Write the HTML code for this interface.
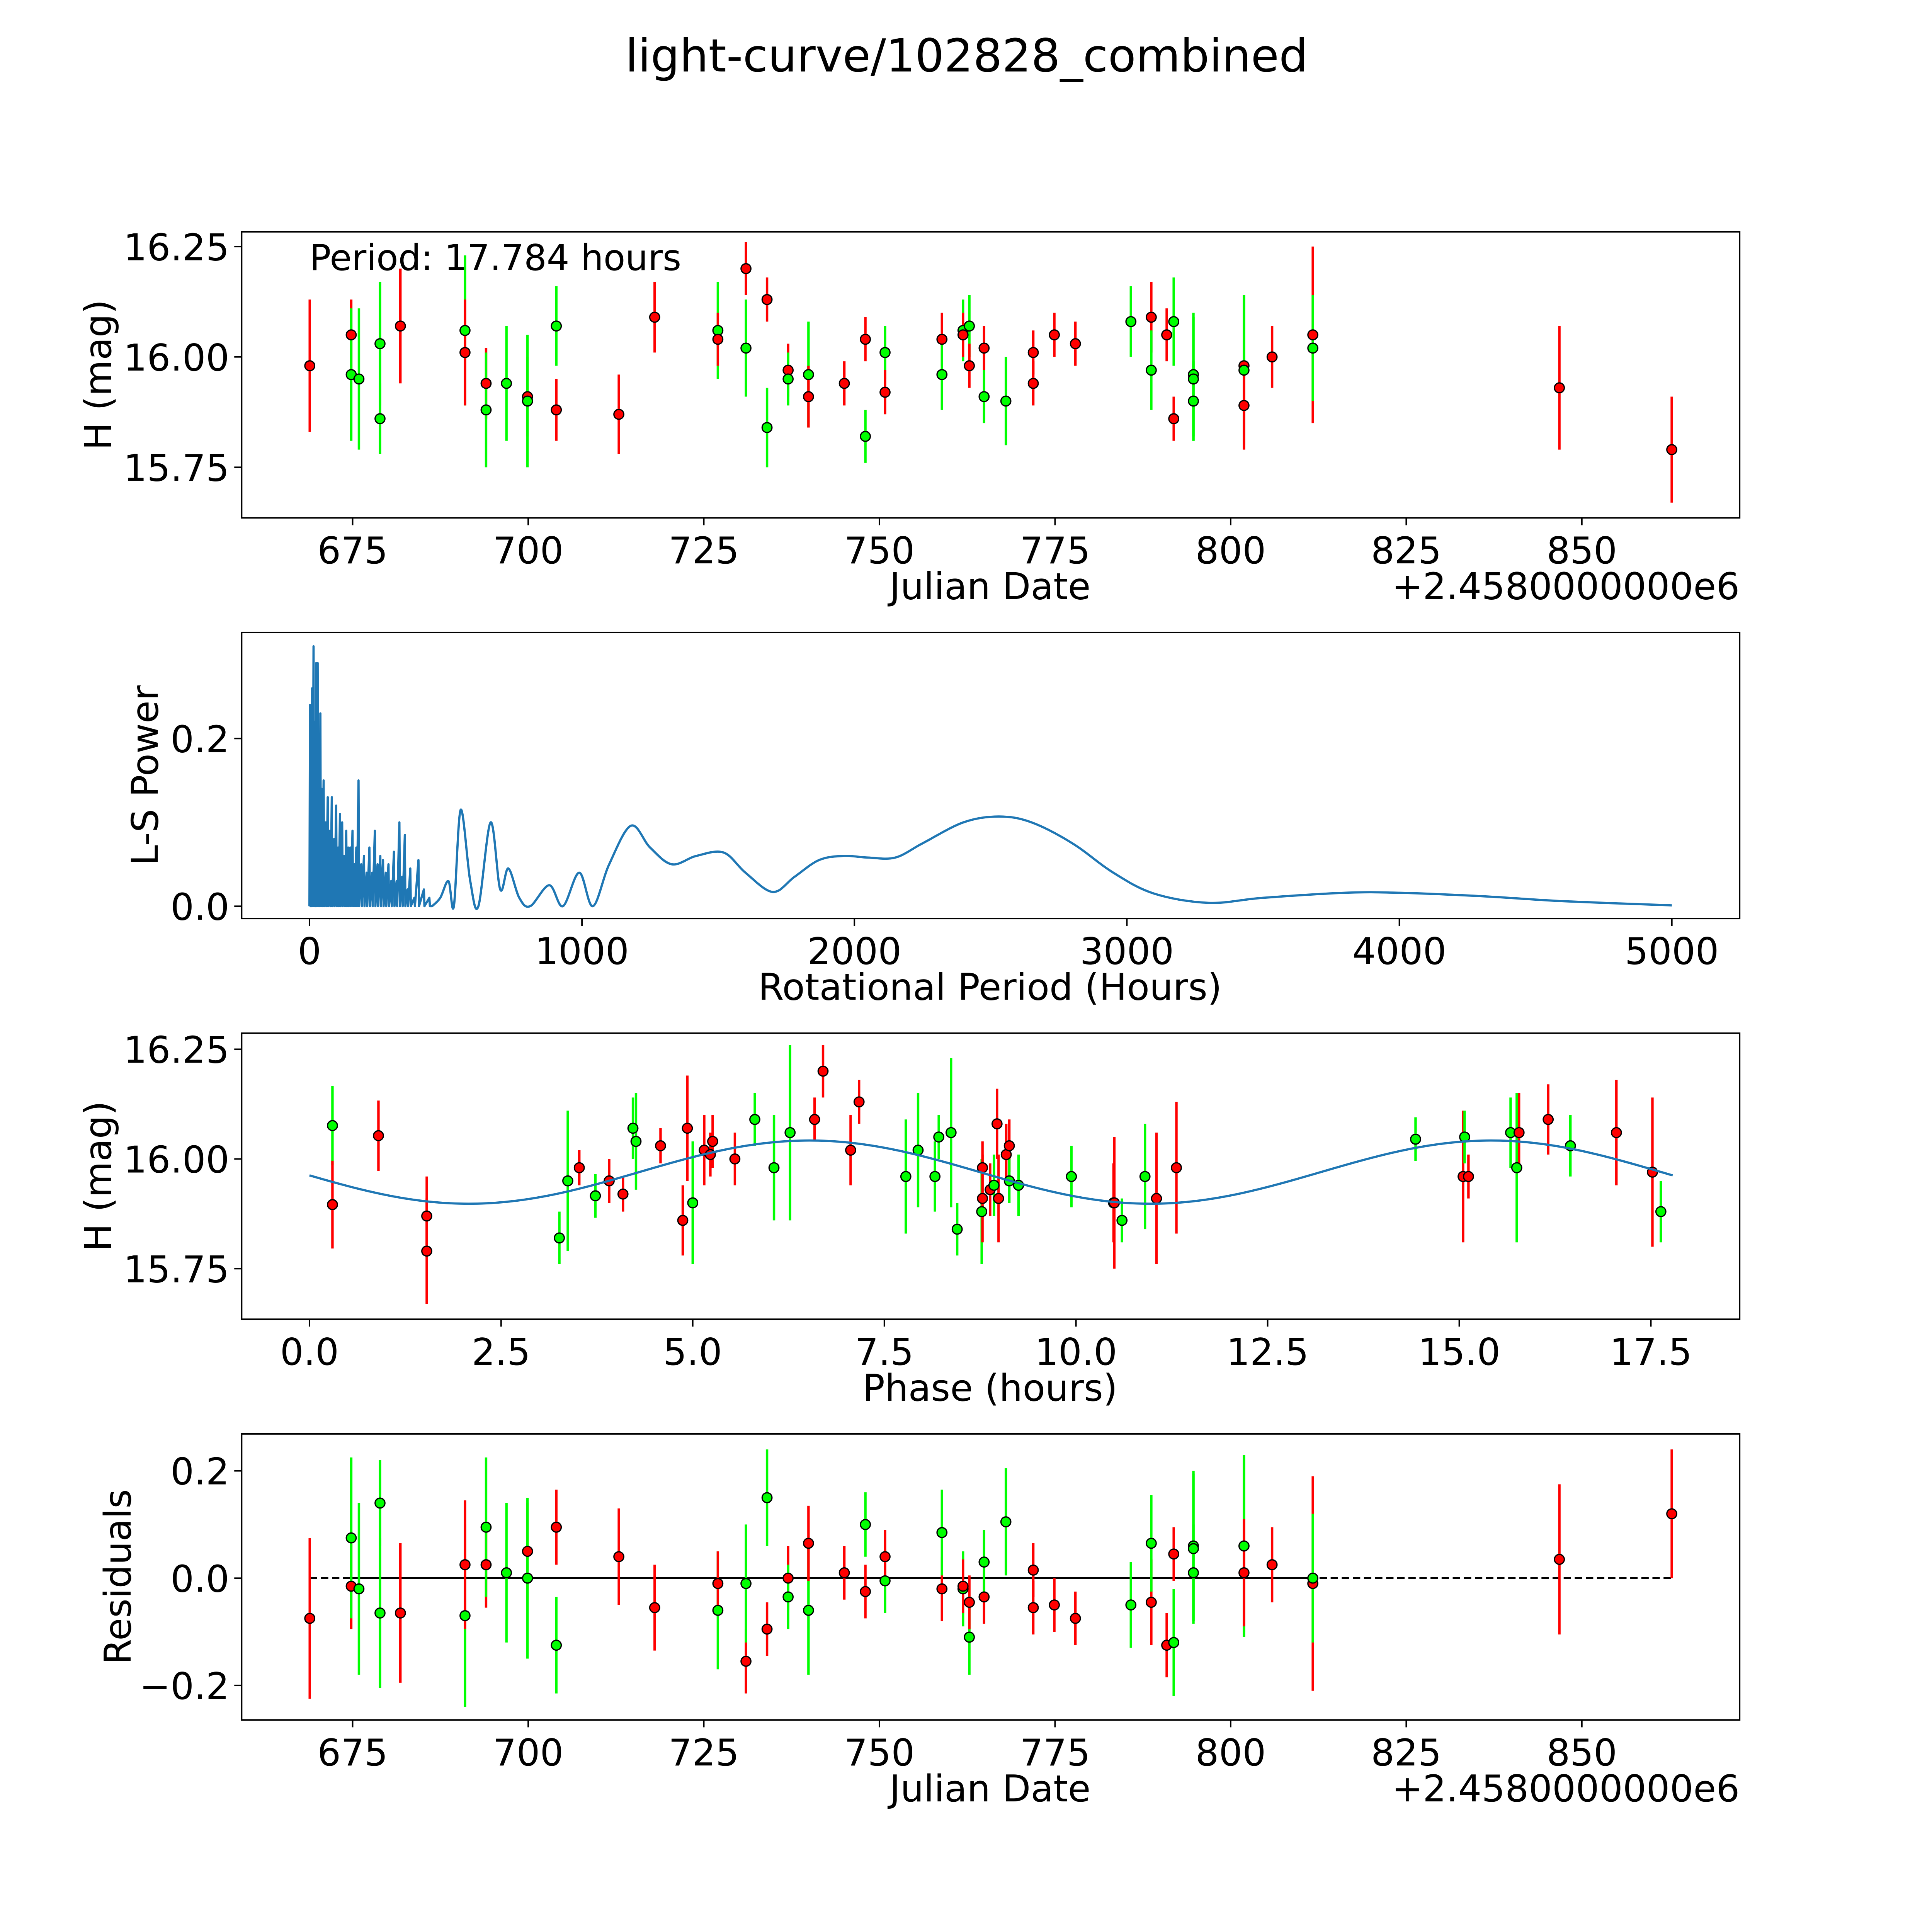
<!DOCTYPE html>
<html><head><meta charset="utf-8"><style>html,body{margin:0;padding:0;background:#fff;overflow:hidden;width:100%;height:100%}svg{display:block;position:fixed;left:0;top:0;width:100vw;height:100vh}text{font-family:"DejaVu Sans","Liberation Sans",sans-serif;fill:#000}</style></head>
<body>
<svg id="fig" xmlns="http://www.w3.org/2000/svg" viewBox="0 0 1567 1567" preserveAspectRatio="none">
<rect width="1567" height="1567" fill="#fff"/>
<text x="784" y="58" font-size="37" text-anchor="middle">light-curve/102828_combined</text>
</svg>
<script>
// ---- light curve data ----
const dates=[668.9,674.8,674.8,675.9,678.9,678.9,681.8,691.0,691.0,694.0,694.0,696.9,699.9,699.9,704.0,704.0,712.9,718.0,727.0,727.0,731.0,731.0,734.0,734.0,737.0,737.0,739.9,739.9,745.0,748.0,748.0,750.8,750.8,758.9,758.9,761.9,761.9,762.8,762.8,764.9,764.9,768.0,771.9,771.9,774.9,777.9,785.8,788.7,788.7,790.9,791.9,791.9,794.7,794.7,794.7,801.9,801.9,801.9,805.9,811.7,811.7,846.8,862.8];
const mags=[15.98,16.05,15.96,15.95,16.03,15.86,16.07,16.06,16.01,15.94,15.88,15.94,15.91,15.90,16.07,15.88,15.87,16.09,16.06,16.04,16.20,16.02,16.13,15.84,15.97,15.95,15.96,15.91,15.94,16.04,15.82,16.01,15.92,16.04,15.96,16.06,16.05,16.07,15.98,16.02,15.91,15.90,16.01,15.94,16.05,16.03,16.08,16.09,15.97,16.05,16.08,15.86,15.96,15.95,15.90,15.98,15.97,15.89,16.00,16.05,16.02,15.93,15.79];
const errs=[0.15,0.08,0.15,0.16,0.14,0.08,0.13,0.17,0.12,0.08,0.13,0.13,0.09,0.15,0.09,0.07,0.09,0.08,0.11,0.06,0.06,0.11,0.05,0.09,0.06,0.06,0.12,0.07,0.05,0.05,0.06,0.06,0.05,0.06,0.08,0.07,0.05,0.07,0.05,0.05,0.06,0.10,0.05,0.05,0.05,0.05,0.08,0.08,0.09,0.06,0.10,0.05,0.14,0.14,0.09,0.16,0.17,0.10,0.07,0.20,0.12,0.14,0.12];
const colors="rrggggrgrrggrggrrrgrrgrgrggrrrggrrggrgrrggrrrrgrgrgrgggrgrrrgrr";
const residuals=[-0.075,-0.015,0.075,-0.02,-0.065,0.14,-0.065,-0.07,0.025,0.025,0.095,0.01,0.05,0.0,-0.125,0.095,0.04,-0.055,-0.06,-0.01,-0.155,-0.01,-0.095,0.15,0.0,-0.035,-0.06,0.065,0.01,-0.025,0.10,-0.005,0.04,-0.02,0.085,-0.02,-0.015,-0.11,-0.045,-0.035,0.03,0.105,0.015,-0.055,-0.05,-0.075,-0.05,-0.045,0.065,-0.125,-0.12,0.045,0.06,0.055,0.01,0.06,0.06,0.01,0.025,-0.01,0.0,0.035,0.12];
// ---- phase-folded data ----
const phases=[0.30,0.30,0.90,1.53,1.53,3.26,3.37,3.52,3.73,3.91,4.09,4.22,4.26,4.58,4.87,4.93,5.00,5.15,5.23,5.26,5.55,5.81,6.06,6.27,6.59,6.70,7.06,7.17,7.78,7.94,8.16,8.21,8.37,8.45,8.77,8.78,8.78,8.88,8.93,8.97,8.99,9.09,9.13,9.13,9.25,9.94,10.49,10.50,10.60,10.90,11.05,11.31,14.43,15.05,15.07,15.12,15.67,15.75,15.78,16.16,16.45,17.05,17.52,17.63];
const phaseMags=[16.076,15.896,16.053,15.87,15.79,15.82,15.95,15.98,15.916,15.95,15.92,16.07,16.04,16.03,15.86,16.07,15.90,16.02,16.01,16.04,16.00,16.09,15.98,16.06,16.09,16.20,16.02,16.13,15.96,16.02,15.96,16.05,16.06,15.84,15.88,15.98,15.91,15.93,15.94,16.08,15.91,16.01,16.03,15.95,15.94,15.96,15.90,15.90,15.86,15.96,15.91,15.98,16.045,15.96,16.05,15.96,16.06,15.98,16.06,16.09,16.03,16.06,15.97,15.88];
const phaseErrs=[0.09,0.1,0.08,0.09,0.12,0.06,0.16,0.04,0.05,0.05,0.04,0.07,0.11,0.04,0.08,0.12,0.14,0.08,0.05,0.06,0.06,0.06,0.12,0.2,0.05,0.06,0.08,0.05,0.13,0.13,0.08,0.05,0.17,0.06,0.12,0.06,0.1,0.06,0.07,0.08,0.1,0.07,0.06,0.05,0.07,0.07,0.09,0.15,0.05,0.12,0.15,0.15,0.05,0.15,0.06,0.05,0.08,0.17,0.09,0.08,0.07,0.12,0.17,0.07];
const phaseColors="grrrrggrgrrggrrrgrrrrgggrrrrgggggggrrrgrrrrgggrrggrrgrgrggrrgrr";
// model
const modelMean=[15.97], modelAmp=[0.072], modelPeriod=[8.892], modelT0=[4.3], fullPeriod=[17.784];
// ---- periodogram ----
const spikePeriods=[2,6,10,15,20,25,30,35,40,45,52,60,67,75,82,90,98,105,112,120,128,135,142,150,158,165,172,180,190,200,210,220,230,240,250,260,270,280,290,300,310,320,330,340,350,360,370,385,400,420,440];
const spikePowers=[0.24,0.2,0.26,0.31,0.22,0.29,0.29,0.18,0.23,0.14,0.15,0.1,0.13,0.09,0.13,0.08,0.12,0.07,0.11,0.1,0.06,0.09,0.07,0.07,0.09,0.05,0.07,0.15,0.05,0.06,0.04,0.07,0.04,0.09,0.05,0.06,0.055,0.04,0.05,0.03,0.065,0.03,0.1,0.035,0.085,0.02,0.045,0.01,0.055,0.02,0.01];
const smoothPeriods=[450,480,510,530,555,590,620,665,700,730,770,810,880,930,990,1040,1100,1180,1250,1330,1420,1520,1600,1700,1780,1870,1960,2050,2150,2250,2400,2530,2650,2800,2950,3100,3300,3500,3800,4000,4300,4600,5000];
const smoothPowers=[0.0,0.01,0.03,0.0,0.115,0.03,0.0,0.10,0.02,0.045,0.01,0.0,0.025,0.0,0.04,0.0,0.05,0.096,0.07,0.05,0.06,0.064,0.04,0.017,0.035,0.055,0.06,0.058,0.058,0.075,0.1,0.107,0.1,0.075,0.04,0.015,0.004,0.01,0.016,0.016,0.012,0.006,0.001];

const NS="http://www.w3.org/2000/svg", svg=document.getElementById('fig');
function mk(tag,attrs,parent){const e=document.createElementNS(NS,tag);for(const k in attrs)e.setAttribute(k,attrs[k]);(parent||svg).appendChild(e);return e;}
function lin(d0,d1,r0,r1){return v=>r0+(v-d0)*(r1-r0)/(d1-d0);}
const L=196,R=1411;
function axes(name,top,bot,xs,ys,xt,xfmt,yt,yfmt,xlabel,ylabel,ylx){
  const g=mk('g',{});
  xt.forEach(t=>{const x=xs(t);mk('line',{x1:x,x2:x,y1:bot,y2:bot+6,stroke:'#000','stroke-width':1.2},g);
    const tx=mk('text',{x:x,y:bot+37,'font-size':30,'text-anchor':'middle'},g);tx.textContent=xfmt(t);
    });
  yt.forEach(t=>{const y=ys(t);mk('line',{x1:L-6,x2:L,y1:y,y2:y,stroke:'#000','stroke-width':1.2},g);
    const tx=mk('text',{x:L-10,y:y+11,'font-size':30,'text-anchor':'end'},g);tx.textContent=yfmt(t);
    });
  const xl=mk('text',{x:803,y:bot+66,'font-size':30,'text-anchor':'middle'},g);xl.textContent=xlabel;
  
  const yl=mk('text',{x:0,y:0,'font-size':30,'text-anchor':'middle',transform:`translate(${ylx},${(top+bot)/2}) rotate(-90)`},g);yl.textContent=ylabel;
  
  return g;
}
function frame(top,bot){const r=mk('rect',{x:L,y:top,width:R-L,height:bot-top,fill:'none',stroke:'#000','stroke-width':1.2});}
function pts(g,xsArr,ysArr,es,cs,xs,ys){
  for(let i=0;i<xsArr.length;i++){const x=xs(xsArr[i]),c=cs[i]=='r'?'#ff0000':'#00ff00';
    const l=mk('line',{x1:x,x2:x,y1:ys(ysArr[i]-es[i]),y2:ys(ysArr[i]+es[i]),stroke:c,'stroke-width':2},g);
    }
  for(let i=0;i<xsArr.length;i++){const c=cs[i]=='r'?'#ff0000':'#00ff00';
    const p=mk('circle',{cx:xs(xsArr[i]),cy:ys(ysArr[i]),r:4,fill:c,stroke:'#000','stroke-width':1},g);
    }
}
const dateX=lin(675,850,286,1283);
const dTicks=[675,700,725,750,775,800,825,850];
const magTicks=[15.75,16.0,16.25];
// Panel 1
{const top=188,bot=420,ys=lin(15.75,16.25,379,200);
 const g=axes('light-curve-panel',top,bot,dateX,ys,dTicks,t=>t,magTicks,t=>t.toFixed(2),'Julian Date','H (mag)',90);
 pts(g,dates,mags,errs,colors,dateX,ys);
 const t=mk('text',{x:251,y:219,'font-size':29},g);t.textContent='Period: 17.784 hours';
 const o=mk('text',{x:R,y:486,'font-size':30,'text-anchor':'end'},g);o.textContent='+2.4580000000e6';
 frame(top,bot);}
// Panel 2
{const top=513,bot=745,xs=lin(0,5000,251,1356),ys=lin(0,0.2,735,599);
 const g=axes('periodogram-panel',top,bot,xs,ys,[0,1000,2000,3000,4000,5000],t=>t,[0,0.2],t=>t.toFixed(1),'Rotational Period (Hours)','L-S Power',128);
 let d=`M${xs(0)},${ys(0)}`;
 for(let i=0;i<spikePeriods.length;i++){const p=spikePeriods[i];d+=` L${xs(p)},${ys(spikePowers[i])} L${xs(p+2)},${ys(0)}`;}
 const P=smoothPeriods.map(xs),V=smoothPowers.map(ys);
 d+=` L${P[0]},${V[0]}`;
 for(let i=0;i<P.length-1;i++){const p0=i?i-1:i,p3=i+2<P.length?i+2:i+1;
   const c1x=P[i]+(P[i+1]-P[p0])/6,c1y=V[i]+(V[i+1]-V[p0])/6,c2x=P[i+1]-(P[p3]-P[i])/6,c2y=V[i+1]-(V[p3]-V[i])/6;
   d+=` C${c1x},${c1y} ${c2x},${c2y} ${P[i+1]},${V[i+1]}`;}
 const pa=mk('path',{d:d,fill:'none',stroke:'#1f77b4','stroke-width':1.8,'stroke-linejoin':'round'},g);
 
 frame(top,bot);}
// Panel 3
{const top=838,bot=1070,xs=lin(0,17.5,251,1339),ys=lin(15.75,16.25,1029,851);
 const g=axes('phase-panel',top,bot,xs,ys,[0,2.5,5,7.5,10,12.5,15,17.5],t=>t.toFixed(1),magTicks,t=>t.toFixed(2),'Phase (hours)','H (mag)',90);
 pts(g,phases,phaseMags,phaseErrs,phaseColors,xs,ys);
 let d='';for(let i=0;i<=300;i++){const p=fullPeriod[0]*i/300;const m=modelMean[0]+modelAmp[0]*Math.sin(2*Math.PI*(p-modelT0[0])/modelPeriod[0]);d+=(i?' L':'M')+xs(p)+','+ys(m);}
 const pa=mk('path',{d:d,fill:'none',stroke:'#1f77b4','stroke-width':1.8},g);
 
 frame(top,bot);}
// Panel 4
{const top=1163,bot=1395,ys=lin(0,0.2,1280,1193);
 const g=axes('residuals-panel',top,bot,dateX,ys,dTicks,t=>t,[-0.2,0,0.2],t=>(t<0?'\u2212':'')+Math.abs(t).toFixed(1),'Julian Date','Residuals',106);
 const dl=mk('line',{x1:dateX(dates[0]),x2:dateX(dates[dates.length-1]),y1:ys(0),y2:ys(0),stroke:'#000','stroke-width':1.5,'stroke-dasharray':'6,3'},g);
 
 const sl=mk('line',{x1:dateX(dates[1]),x2:dateX(dates[60]),y1:ys(0),y2:ys(0),stroke:'#000','stroke-width':1.5},g);
 
 pts(g,dates,residuals,errs,colors,dateX,ys);
 const o=mk('text',{x:R,y:1461,'font-size':30,'text-anchor':'end'},g);o.textContent='+2.4580000000e6';
 frame(top,bot);}
</script>
</body></html>
